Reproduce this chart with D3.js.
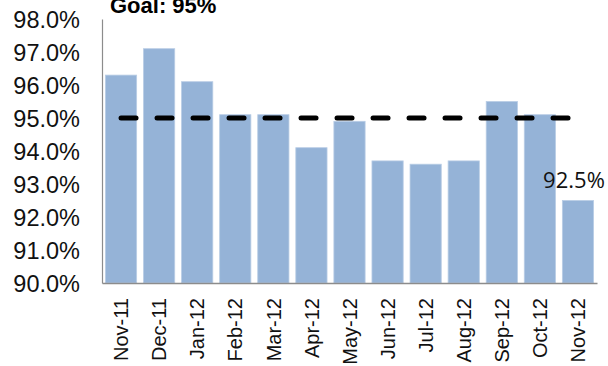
<!DOCTYPE html>
<html>
<head>
<meta charset="utf-8">
<script src="https://cdn.jsdelivr.net/npm/d3@7"></script>
<style>
  html, body { margin: 0; padding: 0; background: #fff; }
  svg { display: block; }
</style>
</head>
<body>
<svg id="chart" width="608" height="366"></svg>
<script>
// Monthly on-time rate, Nov 2011 – Nov 2012
const months = ["Nov-11","Dec-11","Jan-12","Feb-12","Mar-12","Apr-12","May-12","Jun-12","Jul-12","Aug-12","Sep-12","Oct-12","Nov-12"];
const rates = [96.3, 97.1, 96.1, 95.1, 95.1, 94.1, 94.9, 93.7, 93.6, 93.7, 95.5, 95.1, 92.5];
const goal = 95;
const yTicks = [90, 91, 92, 93, 94, 95, 96, 97, 98];
const goalTitle = "Goal: 95%";

const svg = d3.select("#chart");
const plot = { left: 102, right: 597, top: 19, bottom: 283 };

const x = d3.scaleBand().domain(months).range([plot.left, plot.right]).paddingInner(0.18).paddingOuter(0.09);
const y = d3.scaleLinear().domain([90, 98]).range([plot.bottom, plot.top]);

// bars
svg.append("g").selectAll("rect").data(rates).join("rect")
  .attr("x", (d, i) => x(months[i]))
  .attr("y", d => y(d))
  .attr("width", x.bandwidth())
  .attr("height", d => y(90) - y(d))
  .attr("fill", "#95b3d7")
  .attr("stroke", "#b9cde5")
  .attr("stroke-width", 0.8);

// y axis
const yAxis = svg.append("g").attr("transform", `translate(${plot.left},0)`)
  .call(d3.axisLeft(y).tickValues(yTicks).tickSize(0).tickPadding(22).tickFormat(d => d3.format(".1f")(d) + "%"));
yAxis.select(".domain").attr("stroke", "#8c8c8c").attr("stroke-width", 1.2);
yAxis.selectAll("text")
  .attr("font-family", "Liberation Sans, Arial, sans-serif")
  .attr("font-size", 23.5).attr("fill", "#111").attr("dy", "0.36em");

// x axis
const xAxis = svg.append("g").attr("transform", `translate(0,${plot.bottom})`)
  .call(d3.axisBottom(x).tickSize(0));
xAxis.select(".domain").attr("stroke", "#8c8c8c").attr("stroke-width", 1.5);
xAxis.selectAll("text")
  .attr("font-family", "Liberation Sans, Arial, sans-serif")
  .attr("font-size", 20).attr("fill", "#111")
  .attr("text-anchor", "end")
  .attr("transform", "rotate(-90)")
  .attr("x", -15).attr("y", 0).attr("dy", "0.36em");

// goal line
const gx0 = x(months[0]) + x.bandwidth() / 2;
const gx1 = x(months[months.length - 1]) + x.bandwidth() / 2;
svg.append("line")
  .attr("x1", gx0).attr("x2", gx1)
  .attr("y1", y(goal)).attr("y2", y(goal))
  .attr("stroke", "#000").attr("stroke-width", 5)
  .attr("stroke-linecap", "round")
  .attr("stroke-dasharray", "15,21");

// label for the latest month
const last = rates.length - 1;
svg.append("text")
  .attr("x", x(months[last]) + x.bandwidth() / 2 - 4)
  .attr("y", y(rates[last]) - 13)
  .attr("text-anchor", "middle")
  .attr("font-family", "Open Sans, Noto Sans, sans-serif")
  .attr("font-size", 22).attr("fill", "#111")
  .text(d3.format(".1f")(rates[last]) + "%");

// title
svg.append("text")
  .attr("x", 110).attr("y", 12.5)
  .attr("font-family", "Liberation Sans, Arial, sans-serif")
  .attr("font-weight", "bold")
  .attr("font-size", 22).attr("fill", "#000")
  .text(goalTitle);
</script>
</body>
</html>
